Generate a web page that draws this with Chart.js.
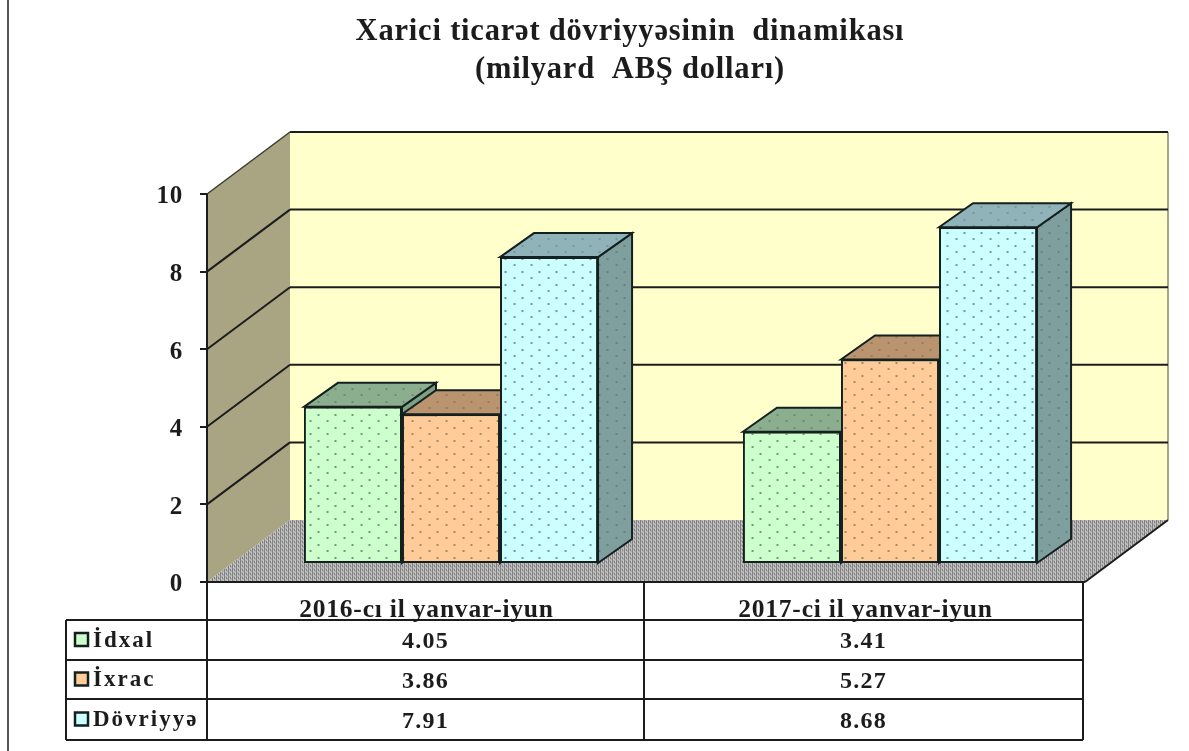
<!DOCTYPE html>
<html>
<head>
<meta charset="utf-8">
<script src="https://cdn.jsdelivr.net/npm/chart.js@4"></script>
<style>
  html, body { margin: 0; padding: 0; background: #fff; }
  canvas { display: block; }
</style>
</head>
<body>
<canvas id="tradeChart" width="1189" height="751"></canvas>
<script>
const categories = ['2016-cı il yanvar-iyun', '2017-ci il yanvar-iyun'];
const seriesNames = ['İdxal', 'İxrac', 'Dövriyyə'];
const idxal = [4.05, 3.41];
const ixrac = [3.86, 5.27];
const dovriyye = [7.91, 8.68];
const titleLines = ['Xarici ticarət dövriyyəsinin  dinamikası', '(milyard  ABŞ dolları)'];

const serif = '"Liberation Serif", serif';
const ink = '#1c1c1c';

// small dotted tiles, same look as the excel "dotted" fill
function dotted(bg, dot) {
  const c = document.createElement('canvas');
  c.width = 17; c.height = 13;
  const g = c.getContext('2d');
  g.fillStyle = bg;
  g.fillRect(0, 0, 17, 13);
  g.fillStyle = dot;
  g.fillRect(4, 3, 2, 2);
  g.fillRect(13, 9, 2, 2);
  return g.createPattern(c, 'repeat');
}

function floorHatch() {
  const c = document.createElement('canvas');
  c.width = 4; c.height = 4;
  const g = c.getContext('2d');
  g.fillStyle = '#b0b0b0';
  g.fillRect(0, 0, 4, 4);
  g.fillStyle = '#808080';
  g.fillRect(0, 0, 1, 4);
  g.fillRect(2, 1, 1, 2);
  g.fillStyle = '#c8c8c8';
  g.fillRect(1, 2, 1, 2);
  g.fillRect(3, 0, 1, 2);
  return g.createPattern(c, 'repeat');
}

const fills = [
  { front: dotted('#ccffcc', '#6f9a80'), top: dotted('#8aae8e', '#6c8c72'), side: dotted('#7d9f82', '#5f7f66'), key: '#ccffcc' },
  { front: dotted('#ffcc99', '#a98a66'), top: dotted('#b9946f', '#9a7a58'), side: dotted('#a5835f', '#8a6c4c'), key: '#ffcc99' },
  { front: dotted('#ccffff', '#6f9aa0'), top: dotted('#8fb3b8', '#74979c'), side: dotted('#7f9f9f', '#648484'), key: '#ccffff' }
];

const depth = { x: 83, y: 62 };     // whole box
const barDepth = { x: 34, y: 24 };  // single column
const inset = { x: 24.5, y: 18 };   // columns stand this far behind the front edge

function poly(ctx, pts, fill, stroke, lw) {
  ctx.beginPath();
  pts.forEach((p, i) => i ? ctx.lineTo(p[0], p[1]) : ctx.moveTo(p[0], p[1]));
  ctx.closePath();
  if (fill) { ctx.fillStyle = fill; ctx.fill(); }
  if (stroke) { ctx.strokeStyle = stroke; ctx.lineWidth = lw || 2; ctx.stroke(); }
}

function line(ctx, x1, y1, x2, y2, color, lw) {
  ctx.beginPath();
  ctx.moveTo(x1, y1);
  ctx.lineTo(x2, y2);
  ctx.strokeStyle = color || ink;
  ctx.lineWidth = lw || 2;
  ctx.stroke();
}

function drawColumnFaces(ctx, bar, f) {
  const r = bar.x + bar.width / 2, l = bar.x - bar.width / 2;
  const bx = barDepth.x, by = barDepth.y;
  poly(ctx, [[r, bar.base], [r + bx, bar.base - by], [r + bx, bar.y - by], [r, bar.y]], f.side, '#14201f', 2);
  poly(ctx, [[l, bar.y], [l + bx, bar.y - by], [r + bx, bar.y - by], [r, bar.y]], f.top, '#14201f', 2);
}

const box3d = {
  id: 'box3d',
  afterLayout(chart) {
    // title sits a bit right of the canvas centre
    chart.titleBlock.left = 175;
  },
  beforeDraw(chart) {
    // the picture has widely spaced lettering everywhere
    chart.ctx.letterSpacing = '0.8px';
    // stray page border on the left of the picture
    line(chart.ctx, 8, 0, 8, 751, '#555', 2);
  },
  beforeDatasetsDraw(chart) {
    const { ctx, chartArea: a, scales: { y } } = chart;
    const dx = depth.x, dy = depth.y;
    // back wall, side wall, floor
    poly(ctx, [[a.left + dx, a.top - dy], [a.right + dx, a.top - dy], [a.right + dx, a.bottom - dy], [a.left + dx, a.bottom - dy]], '#ffffcc');
    poly(ctx, [[a.left, a.top], [a.left + dx, a.top - dy], [a.left + dx, a.bottom - dy], [a.left, a.bottom]], '#a9a583');
    poly(ctx, [[a.left, a.bottom], [a.right, a.bottom], [a.right + dx, a.bottom - dy], [a.left + dx, a.bottom - dy]], floorHatch());
    line(ctx, a.right + dx, a.top - dy, a.right + dx, a.bottom - dy, '#a8a68a', 2);
    line(ctx, a.left, a.top, a.left + dx, a.top - dy, '#3a3a30', 1.5);
    // grid lines run along the side wall and the back wall
    y.ticks.forEach(t => {
      if (t.value === 0) return;
      const py = y.getPixelForValue(t.value);
      if (t.value !== 10) line(ctx, a.left, py, a.left + dx, py - dy, ink, 2);
      line(ctx, a.left + dx, py - dy, a.right + dx, py - dy, ink, 2);
    });
    // box edges
    line(ctx, a.left, a.top, a.left, a.bottom, ink, 2);
    line(ctx, a.left, a.bottom, a.right, a.bottom, ink, 2);
    line(ctx, a.right, a.bottom, a.right + dx, a.bottom - dy, ink, 2);
  },
  // native order paints the first dataset last, here left column must go first
  beforeDatasetDraw() {
    return false;
  },
  afterDatasetsDraw(chart) {
    const { ctx } = chart;
    ctx.save();
    ctx.translate(inset.x, -inset.y);
    chart.data.datasets.forEach((ds, i) => {
      const meta = chart.getDatasetMeta(i);
      meta.controller.draw();
      meta.data.forEach(bar => drawColumnFaces(ctx, bar, fills[i]));
    });
    ctx.restore();
    drawTable(chart);
  }
};

function drawTable(chart) {
  const { ctx, chartArea: a, data } = chart;
  const left = 66, mid = 644, right = 1083;
  const rows = [620, 660, 699, 740];
  ctx.save();
  // header cells under the axis
  line(ctx, a.left, a.bottom, a.left, rows[0], ink, 2);
  line(ctx, mid, a.bottom, mid, rows[0], ink, 2);
  line(ctx, a.right - 2, a.bottom, a.right - 2, rows[0], ink, 2);
  rows.forEach(r => line(ctx, left, r, right, r, ink, 2));
  [left, a.left, mid, right].forEach(x => line(ctx, x, rows[0], x, rows[3], ink, 2));

  ctx.textBaseline = 'middle';
  data.datasets.forEach((ds, i) => {
    const cy = (rows[i] + rows[i + 1]) / 2;
    ctx.fillStyle = fills[i].key;
    ctx.strokeStyle = '#14201f';
    ctx.lineWidth = 2.5;
    ctx.fillRect(75, cy - 7, 13, 13);
    ctx.strokeRect(75, cy - 7, 13, 13);
    ctx.fillStyle = ink;
    ctx.font = 'bold 23px ' + serif;
    ctx.textAlign = 'left';
    ctx.letterSpacing = '2px';
    ctx.fillText(ds.label, 93, cy + 1);
    ctx.font = 'bold 24px ' + serif;
    ctx.letterSpacing = '1.2px';
    ctx.textAlign = 'center';
    ds.data.forEach((v, j) => {
      const cx = j === 0 ? (a.left + mid) / 2 : (mid + right) / 2;
      ctx.fillText(v.toFixed(2), cx, cy + 2);
    });
  });
  ctx.restore();
}

const chart = new Chart(document.getElementById('tradeChart'), {
  type: 'bar',
  plugins: [box3d],
  data: {
    labels: categories,
    datasets: [
      { label: seriesNames[0], data: idxal, backgroundColor: fills[0].front },
      { label: seriesNames[1], data: ixrac, backgroundColor: fills[1].front },
      { label: seriesNames[2], data: dovriyye, backgroundColor: fills[2].front }
    ]
  },
  options: {
    responsive: false,
    animation: false,
    devicePixelRatio: 1,
    layout: { padding: { top: 13, right: 104, bottom: 0, left: 0 } },
    datasets: {
      bar: {
        categoryPercentage: 0.67,
        barPercentage: 1,
        borderColor: '#14201f',
        borderWidth: 2,
        borderSkipped: false,
        clip: false
      }
    },
    plugins: {
      legend: { display: false },
      tooltip: { enabled: false },
      title: {
        display: true,
        text: titleLines,
        color: ink,
        font: { family: serif, size: 30.5, weight: 'bold', lineHeight: 1.246 },
        padding: { top: 0, bottom: 105 }
      }
    },
    scales: {
      x: {
        afterFit(s) { s.height = 169; },
        grid: { display: false },
        border: { display: false },
        ticks: {
          color: ink,
          padding: 5,
          maxRotation: 0,
          font: { family: serif, size: 25.5, weight: 'bold' }
        }
      },
      y: {
        min: 0,
        max: 10,
        afterFit(s) { s.width = 207; },
        border: { display: false },
        grid: { drawOnChartArea: false, drawTicks: true, tickLength: 7, color: ink, lineWidth: 2 },
        ticks: {
          stepSize: 2,
          color: ink,
          padding: 17,
          labelOffset: 3,
          font: { family: serif, size: 25, weight: 'bold' }
        }
      }
    }
  }
});
</script>
</body>
</html>
